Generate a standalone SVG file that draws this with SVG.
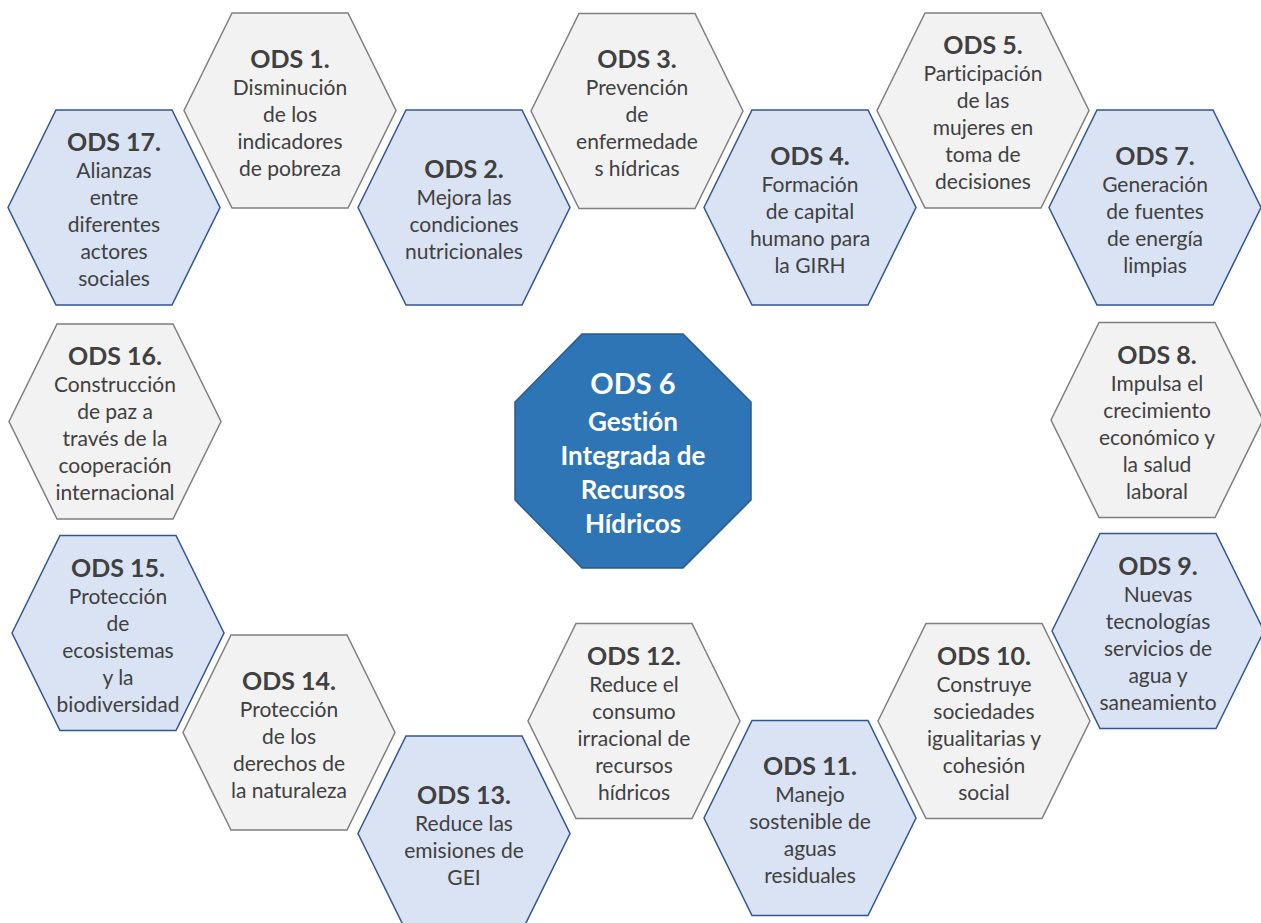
<svg xmlns="http://www.w3.org/2000/svg" xmlns:xlink="http://www.w3.org/1999/xlink" width="1261" height="923" viewBox="0 0 1261 923">
<style>
.gray{fill:#f2f2f2;stroke:#7f7f7f;stroke-width:1.5}
.blue{fill:#dae3f3;stroke:#2f5597;stroke-width:1.5}
text{font-family:Lato,"Liberation Sans",sans-serif;fill:#404040;text-anchor:middle;font-variant-ligatures:none;font-feature-settings:"liga" 0,"clig" 0}
.t{font-weight:bold;font-size:25px}
.b{font-size:21px}
.c{fill:#ffffff;font-weight:bold;font-size:26px}
.c1{font-size:29px}
.oct{fill:#2e75b6;stroke:#2a5a8f;stroke-width:1.5}
</style>
<defs>
<polygon id="hex" points="-106,0 -58,-97.5 58,-97.5 106,0 58,97.5 -58,97.5"/>
</defs>
<rect width="1261" height="923" fill="#ffffff"/>
<g id="connectors"/>
<g id="ods1" transform="translate(290,110.5)"><use xlink:href="#hex" class="gray"/>
<text class="t" y="-43">ODS 1.</text><text class="b" y="-16">Disminución</text><text class="b" y="11">de los</text><text class="b" y="38">indicadores</text><text class="b" y="65">de pobreza</text></g>
<g id="ods3" transform="translate(637,111)"><use xlink:href="#hex" class="gray"/>
<text class="t" y="-43">ODS 3.</text><text class="b" y="-16">Prevención</text><text class="b" y="11">de</text><text class="b" y="38">enfermedade</text><text class="b" y="65">s hídricas</text></g>
<g id="ods5" transform="translate(983,110.5)"><use xlink:href="#hex" class="gray"/>
<text class="t" y="-56.5">ODS 5.</text><text class="b" y="-29.5">Participación</text><text class="b" y="-2.5">de las</text><text class="b" y="24.5">mujeres en</text><text class="b" y="51.5">toma de</text><text class="b" y="78.5">decisiones</text></g>
<g id="ods17" transform="translate(114,207.5)"><use xlink:href="#hex" class="blue"/>
<text class="t" y="-56.5">ODS 17.</text><text class="b" y="-29.5">Alianzas</text><text class="b" y="-2.5">entre</text><text class="b" y="24.5">diferentes</text><text class="b" y="51.5">actores</text><text class="b" y="78.5">sociales</text></g>
<g id="ods2" transform="translate(464,207.5)"><use xlink:href="#hex" class="blue"/>
<text class="t" y="-29.5">ODS 2.</text><text class="b" y="-2.5">Mejora las</text><text class="b" y="24.5">condiciones</text><text class="b" y="51.5">nutricionales</text></g>
<g id="ods4" transform="translate(810,207.5)"><use xlink:href="#hex" class="blue"/>
<text class="t" y="-43">ODS 4.</text><text class="b" y="-16">Formación</text><text class="b" y="11">de capital</text><text class="b" y="38">humano para</text><text class="b" y="65">la GIRH</text></g>
<g id="ods7" transform="translate(1155,207.5)"><use xlink:href="#hex" class="blue"/>
<text class="t" y="-43">ODS 7.</text><text class="b" y="-16">Generación</text><text class="b" y="11">de fuentes</text><text class="b" y="38">de energía</text><text class="b" y="65">limpias</text></g>
<g id="ods16" transform="translate(115,421.5)"><use xlink:href="#hex" class="gray"/>
<text class="t" y="-56.5">ODS 16.</text><text class="b" y="-29.5">Construcción</text><text class="b" y="-2.5">de paz a</text><text class="b" y="24.5">través de la</text><text class="b" y="51.5">cooperación</text><text class="b" y="78.5">internacional</text></g>
<g id="ods8" transform="translate(1157,420)"><use xlink:href="#hex" class="gray"/>
<text class="t" y="-56.5">ODS 8.</text><text class="b" y="-29.5">Impulsa el</text><text class="b" y="-2.5">crecimiento</text><text class="b" y="24.5">económico y</text><text class="b" y="51.5">la salud</text><text class="b" y="78.5">laboral</text></g>
<g id="ods15" transform="translate(118,633)"><use xlink:href="#hex" class="blue"/>
<text class="t" y="-56.5">ODS 15.</text><text class="b" y="-29.5">Protección</text><text class="b" y="-2.5">de</text><text class="b" y="24.5">ecosistemas</text><text class="b" y="51.5">y la</text><text class="b" y="78.5">biodiversidad</text></g>
<g id="ods9" transform="translate(1158,631)"><use xlink:href="#hex" class="blue"/>
<text class="t" y="-56.5">ODS 9.</text><text class="b" y="-29.5">Nuevas</text><text class="b" y="-2.5">tecnologías</text><text class="b" y="24.5">servicios de</text><text class="b" y="51.5">agua y</text><text class="b" y="78.5">saneamiento</text></g>
<g id="ods14" transform="translate(289,732.5)"><use xlink:href="#hex" class="gray"/>
<text class="t" y="-43">ODS 14.</text><text class="b" y="-16">Protección</text><text class="b" y="11">de los</text><text class="b" y="38">derechos de</text><text class="b" y="65">la naturaleza</text></g>
<g id="ods12" transform="translate(634,721)"><use xlink:href="#hex" class="gray"/>
<text class="t" y="-56.5">ODS 12.</text><text class="b" y="-29.5">Reduce el</text><text class="b" y="-2.5">consumo</text><text class="b" y="24.5">irracional de</text><text class="b" y="51.5">recursos</text><text class="b" y="78.5">hídricos</text></g>
<g id="ods10" transform="translate(984,721)"><use xlink:href="#hex" class="gray"/>
<text class="t" y="-56.5">ODS 10.</text><text class="b" y="-29.5">Construye</text><text class="b" y="-2.5">sociedades</text><text class="b" y="24.5">igualitarias y</text><text class="b" y="51.5">cohesión</text><text class="b" y="78.5">social</text></g>
<g id="ods13" transform="translate(464,833.5)"><use xlink:href="#hex" class="blue"/>
<text class="t" y="-29.5">ODS 13.</text><text class="b" y="-2.5">Reduce las</text><text class="b" y="24.5">emisiones de</text><text class="b" y="51.5">GEI</text></g>
<g id="ods11" transform="translate(810,818)"><use xlink:href="#hex" class="blue"/>
<text class="t" y="-43">ODS 11.</text><text class="b" y="-16">Manejo</text><text class="b" y="11">sostenible de</text><text class="b" y="38">aguas</text><text class="b" y="65">residuales</text></g>
<g id="ods6">
<polygon class="oct" points="582,334 683,334 751,402 751,500 683,568 582,568 515,500 515,402"/>
<text class="c c1" x="633" y="394">ODS 6</text>
<text class="c" x="633" y="431">Gestión</text>
<text class="c" x="633" y="465">Integrada de</text>
<text class="c" x="633" y="499">Recursos</text>
<text class="c" x="633" y="533">Hídricos</text>
</g>
</svg>
